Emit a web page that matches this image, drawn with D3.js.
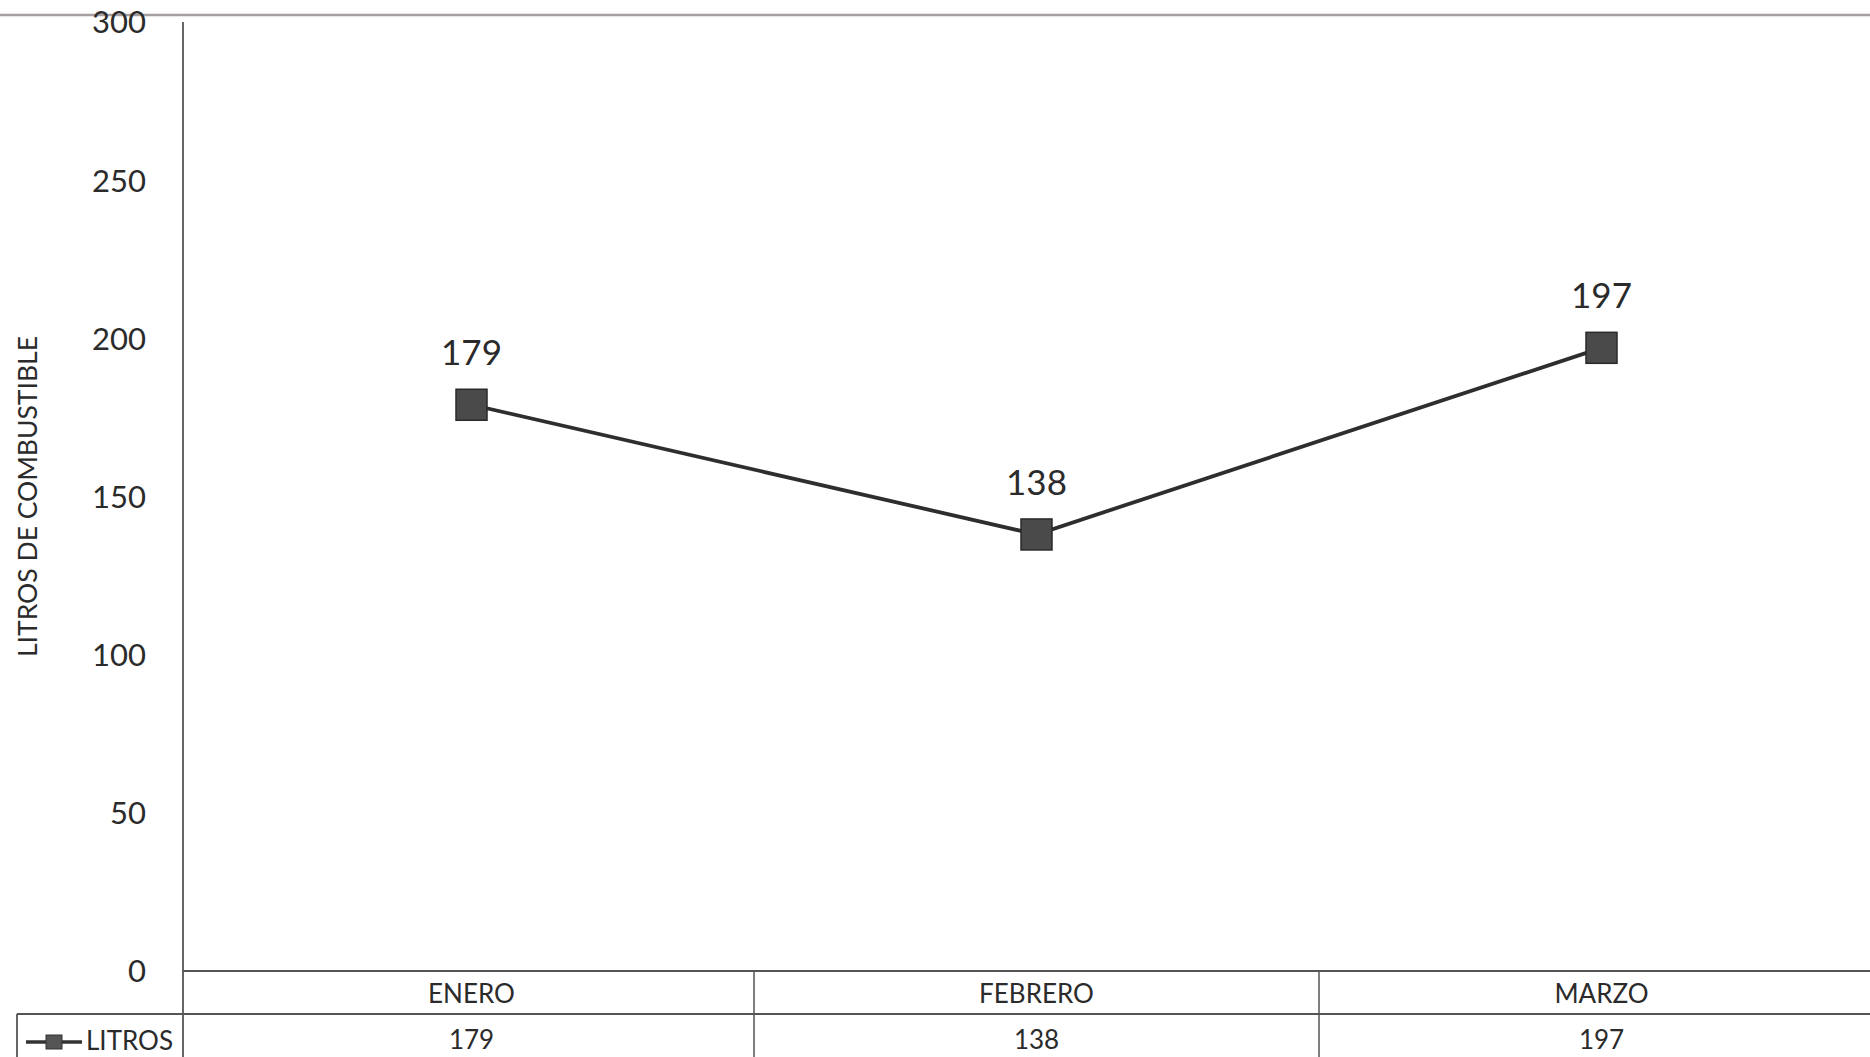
<!DOCTYPE html>
<html>
<head>
<meta charset="utf-8">
<script src="https://cdn.jsdelivr.net/npm/d3@7"></script>
<style>
  body { margin: 0; background: #fff; overflow: hidden; }
  text { font-family: Lato, "Open Sans", sans-serif; fill: #2b2b2b; }
</style>
</head>
<body>
<script>
// data
const meses = ["ENERO", "FEBRERO", "MARZO"];
const litros = [179, 138, 197];
const yTicks = [0, 50, 100, 150, 200, 250, 300];
const serieNombre = "LITROS";
const ejeY = "LITROS DE COMBUSTIBLE";

const W = 1870, H = 1057;

const svg = d3.select("body")
  .append("svg")
  .attr("width", W)
  .attr("height", H);

const axisX = 183;

const x = d3.scaleBand()
  .domain(meses)
  .range([189, 1884]);

const y = d3.scaleLinear()
  .domain([0, 300])
  .range([971, 22]);

// gray rule across the top of the page
svg.append("line")
  .attr("x1", 0).attr("x2", W)
  .attr("y1", 15).attr("y2", 15)
  .attr("stroke", "#a59fa1")
  .attr("stroke-width", 2.5);

// y axis labels (no ticks, no domain line)
const yAxis = d3.axisLeft(y).tickValues(yTicks).tickSize(0).tickPadding(0);
const gy = svg.append("g")
  .attr("transform", "translate(146,0)")
  .call(yAxis);
gy.select(".domain").remove();
gy.selectAll("text")
  .style("font-size", "31px")
  .attr("dy", "0.35em");

// vertical axis line, runs down through the table
svg.append("line")
  .attr("x1", axisX).attr("x2", axisX)
  .attr("y1", y(300)).attr("y2", H)
  .attr("stroke", "#555").attr("stroke-width", 1.8);

// y title
svg.append("text")
  .attr("transform", "translate(37," + y(150) + ") rotate(-90)")
  .attr("text-anchor", "middle")
  .style("font-size", "26.5px")
  .text(ejeY);

// data table under the plot
const rowTop = y(0), rowMid = 1014;
svg.append("line")
  .attr("x1", axisX).attr("x2", W)
  .attr("y1", rowTop).attr("y2", rowTop)
  .attr("stroke", "#555").attr("stroke-width", 1.8);
svg.append("line")
  .attr("x1", 17).attr("x2", W)
  .attr("y1", rowMid).attr("y2", rowMid)
  .attr("stroke", "#555").attr("stroke-width", 1.8);
svg.append("line")
  .attr("x1", 17).attr("x2", 17)
  .attr("y1", rowMid).attr("y2", H)
  .attr("stroke", "#555").attr("stroke-width", 1.8);

svg.selectAll(".sep")
  .data(meses.slice(1))
  .enter().append("line")
  .attr("class", "sep")
  .attr("x1", d => x(d)).attr("x2", d => x(d))
  .attr("y1", rowTop).attr("y2", H)
  .attr("stroke", "#555").attr("stroke-width", 1.5);

svg.selectAll(".cat")
  .data(meses)
  .enter().append("text")
  .attr("class", "cat")
  .attr("x", d => x(d) + x.bandwidth() / 2)
  .attr("y", (rowTop + rowMid) / 2 + 1)
  .attr("dy", "0.35em")
  .attr("text-anchor", "middle")
  .style("font-size", "26px")
  .text(d => d);

svg.selectAll(".val")
  .data(litros)
  .enter().append("text")
  .attr("class", "val")
  .attr("x", (d, i) => x(meses[i]) + x.bandwidth() / 2)
  .attr("y", 1040)
  .attr("dy", "0.35em")
  .attr("text-anchor", "middle")
  .style("font-size", "26px")
  .text(d => d);

// legend key in the table
const lg = svg.append("g");
lg.append("line")
  .attr("x1", 26).attr("x2", 82)
  .attr("y1", 1042).attr("y2", 1042)
  .attr("stroke", "#333").attr("stroke-width", 3.5);
lg.append("rect")
  .attr("x", 46).attr("y", 1035)
  .attr("width", 16).attr("height", 14)
  .attr("fill", "#555").attr("stroke", "#333");
lg.append("text")
  .attr("x", 86).attr("y", 1041)
  .attr("dy", "0.35em")
  .style("font-size", "26px")
  .text(serieNombre);

// the series
const line = d3.line()
  .x((d, i) => x(meses[i]) + x.bandwidth() / 2)
  .y(d => y(d));

svg.append("path")
  .datum(litros)
  .attr("fill", "none")
  .attr("stroke", "#2e2e2e")
  .attr("stroke-width", 3.8)
  .attr("d", line);

const ms = 31;
svg.selectAll(".pt")
  .data(litros)
  .enter().append("rect")
  .attr("class", "pt")
  .attr("x", (d, i) => x(meses[i]) + x.bandwidth() / 2 - ms / 2)
  .attr("y", d => y(d) - ms / 2)
  .attr("width", ms).attr("height", ms)
  .attr("fill", "#4a4a4a")
  .attr("stroke", "#2a2a2a")
  .attr("stroke-width", 1.5);

svg.selectAll(".lbl")
  .data(litros)
  .enter().append("text")
  .attr("class", "lbl")
  .attr("x", (d, i) => x(meses[i]) + x.bandwidth() / 2)
  .attr("y", d => y(d) - 52)
  .attr("dy", "0.35em")
  .attr("text-anchor", "middle")
  .style("font-size", "35px")
  .text(d => d);
</script>
</body>
</html>
